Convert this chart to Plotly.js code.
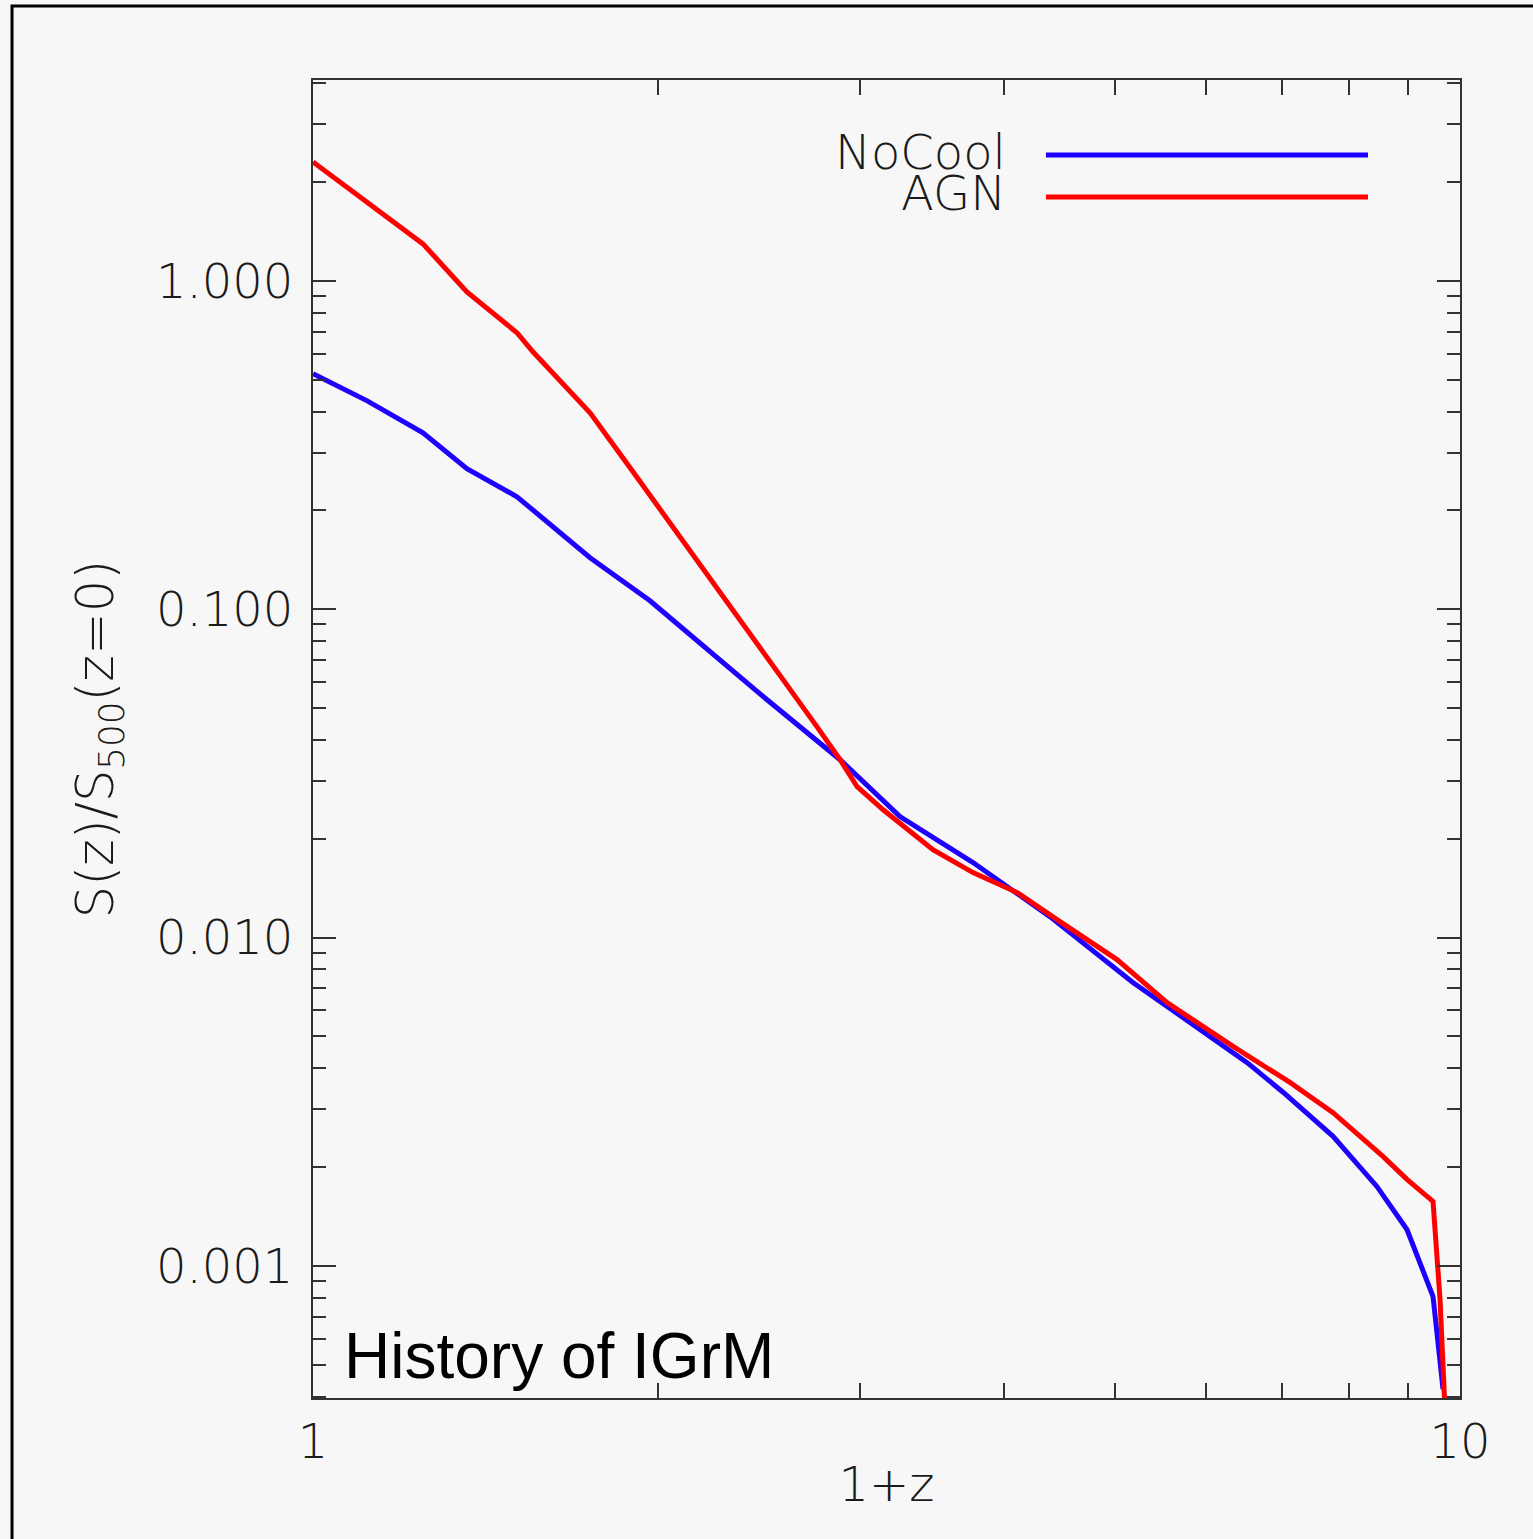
<!DOCTYPE html>
<html>
<head>
<meta charset="utf-8">
<script src="https://cdn.plot.ly/plotly-3.0.1.min.js"></script>
<style>html,body{margin:0;padding:0;background:#f7f7f7;}#chart{width:1533px;height:1539px;}</style>
</head>
<body>
<div id="chart"></div>
<script>
// 1+z values and S(z)/S500(z=0)
const noCoolX = [1.000, 1.115, 1.247, 1.362, 1.506, 1.744, 1.967, 2.250, 2.488, 2.881, 3.249, 3.762, 4.390, 5.186, 5.934, 6.523, 7.010, 7.750, 8.463, 8.990, 9.473, 9.550, 9.665];
const noCoolY = [0.521, 0.431, 0.3446, 0.2677, 0.2201, 0.1435, 0.1061, 0.0712, 0.0530, 0.0348, 0.02335, 0.01692, 0.01158, 0.00730, 0.00525, 0.00416, 0.00338, 0.00248, 0.001746, 0.001291, 0.000807, 0.000627, 0.000421];

const agnX = [1.000, 1.247, 1.362, 1.506, 1.555, 1.632, 1.744, 1.901, 2.175, 2.371, 2.569, 2.750, 2.881, 2.981, 3.141, 3.471, 3.762, 4.110, 4.453, 5.023, 5.554, 6.341, 7.108, 7.750, 8.567, 8.990, 9.473, 9.550, 9.607, 9.703];
const agnY = [2.303, 1.296, 0.926, 0.695, 0.608, 0.510, 0.3965, 0.2622, 0.1366, 0.0910, 0.0610, 0.0439, 0.0348, 0.0288, 0.0245, 0.01853, 0.01577, 0.01371, 0.01134, 0.00857, 0.00634, 0.00466, 0.00362, 0.00293, 0.002155, 0.001834, 0.001572, 0.001123, 0.000791, 0.000366];

const seriesNames = ["NoCool", "AGN"];
const xTickVals = [1, 10];
const xTickText = ["1", "10"];
const xMinorVals = [2, 3, 4, 5, 6, 7, 8, 9];
const yTickVals = [0.001, 0.01, 0.1, 1];
const yTickText = ["0.001", "0.010", "0.100", "1.000"];
const yMinorVals = [];
[0.0001, 0.001, 0.01, 0.1, 1].forEach(d => { for (let k = 2; k <= 9; k++) yMinorVals.push(+(k * d).toPrecision(3)); });

const blue = '#1e00ff', red = '#ff0000';
const axisCol = '#333333';
const lblFont = {family: 'DejaVu Sans, sans-serif', size: 48, color: '#1a1a1a', weight: 200};

const traces = [
  {x: noCoolX, y: noCoolY, mode: 'lines', name: seriesNames[0], line: {color: blue, width: 5}},
  {x: agnX, y: agnY, mode: 'lines', name: seriesNames[1], line: {color: red, width: 5}}
];

const layout = {
  width: 1533, height: 1539,
  margin: {l: 313, r: 73, t: 80, b: 141, pad: 0},
  paper_bgcolor: '#f7f7f7', plot_bgcolor: '#f7f7f7',
  showlegend: false,
  xaxis: {
    type: 'log', range: [0, 1], autorange: false,
    tickmode: 'array', tickvals: xTickVals, ticktext: xTickText,
    ticks: 'inside', ticklen: 15, tickwidth: 2, tickcolor: axisCol,
    minor: {tickmode: 'array', tickvals: xMinorVals, ticks: 'inside', ticklen: 15, tickwidth: 2, tickcolor: axisCol, showgrid: false},
    showline: true, linecolor: axisCol, linewidth: 2, mirror: 'ticks',
    showgrid: false, zeroline: false,
    tickfont: lblFont, ticklabelstandoff: 0,
    title: {text: '1+z', font: lblFont, standoff: 0}
  },
  yaxis: {
    type: 'log', range: [Math.log10(3.96e-4), Math.log10(4.09)], autorange: false,
    tickmode: 'array', tickvals: yTickVals, ticktext: yTickText,
    ticks: 'inside', ticklen: 23, tickwidth: 2, tickcolor: axisCol,
    minor: {tickmode: 'array', tickvals: yMinorVals, ticks: 'inside', ticklen: 13, tickwidth: 2, tickcolor: axisCol, showgrid: false},
    showline: true, linecolor: axisCol, linewidth: 2, mirror: 'ticks',
    showgrid: false, zeroline: false,
    tickfont: lblFont, ticklabelstandoff: 8,
    title: {text: 'S(z)/S<sub>500</sub>(z=0)', font: {family: 'DejaVu Sans, sans-serif', size: 51, color: '#1a1a1a', weight: 200}, standoff: 26}
  },
  shapes: [
    {type: 'line', xref: 'paper', yref: 'paper', x0: 0.639, x1: 0.9198, y0: 0.9431, y1: 0.9431, line: {color: blue, width: 5}},
    {type: 'line', xref: 'paper', yref: 'paper', x0: 0.639, x1: 0.9198, y0: 0.9112, y1: 0.9112, line: {color: red, width: 5}},
    {type: 'rect', xref: 'paper', yref: 'paper', x0: -0.2624, x1: 1.074, y0: -0.1115, y1: 1.0561, line: {color: '#000000', width: 3}}
  ],
  annotations: [
    {text: seriesNames[0], xref: 'paper', yref: 'paper', x: 0.6060, y: 0.9454, xanchor: 'right', yanchor: 'middle', showarrow: false, font: lblFont},
    {text: seriesNames[1], xref: 'paper', yref: 'paper', x: 0.6060, y: 0.9143, xanchor: 'right', yanchor: 'middle', showarrow: false, font: lblFont},
    {text: 'History of IGrM', xref: 'paper', yref: 'paper', x: 0.0253, y: 0.0319, xanchor: 'left', yanchor: 'middle', showarrow: false, font: {family: 'Liberation Sans, Arial, sans-serif', size: 64, color: '#000000'}}
  ]
};

Plotly.newPlot('chart', traces, layout, {staticPlot: true, displayModeBar: false});
</script>
</body>
</html>
